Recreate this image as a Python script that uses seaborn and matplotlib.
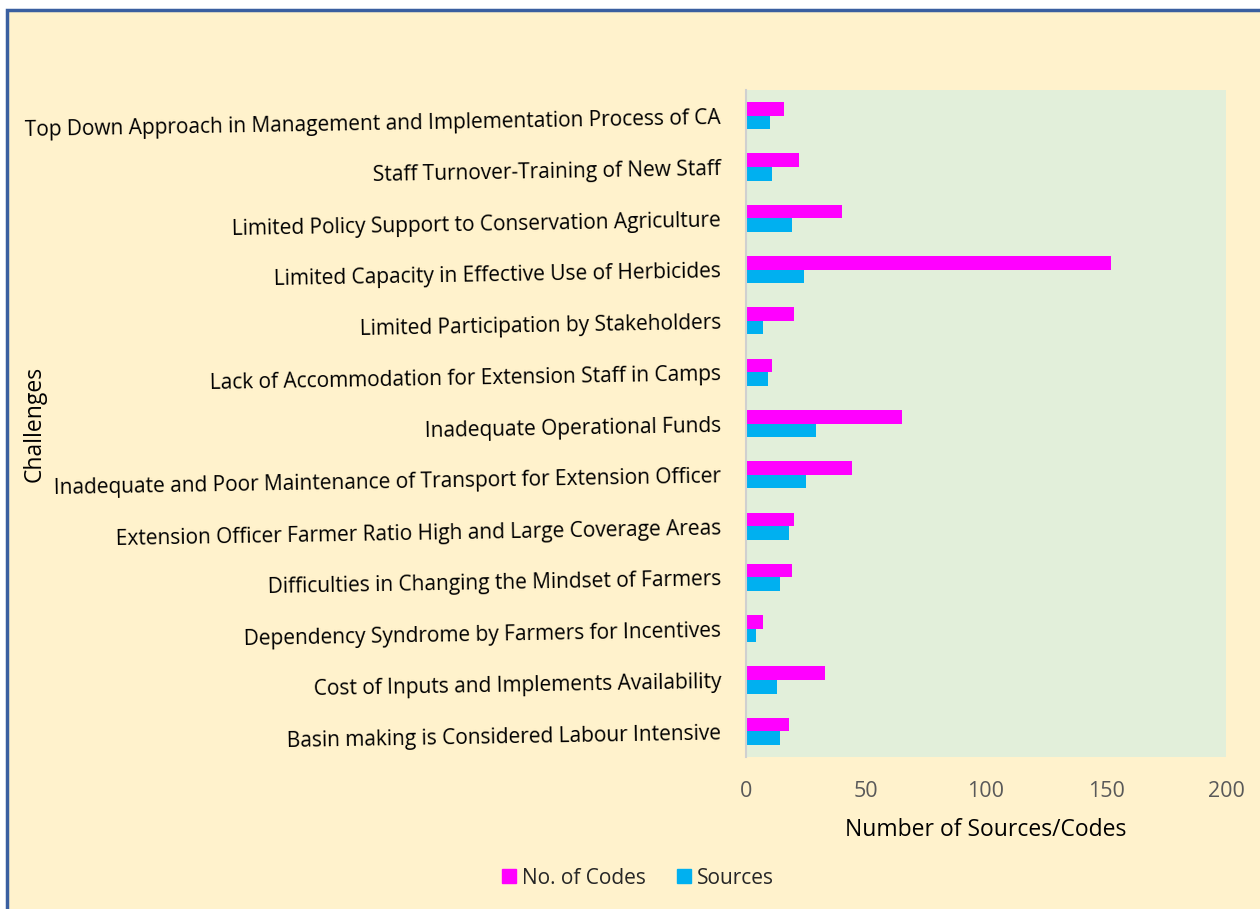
import matplotlib
matplotlib.use('Agg')
import matplotlib.pyplot as plt
import matplotlib.patches as mpatches
import seaborn as sns
import pandas as pd

# categories listed top to bottom as shown in the chart
challenges = [
    'Top Down Approach in Management and Implementation Process of CA',
    'Staff Turnover-Training of New Staff',
    'Limited Policy Support to Conservation Agriculture',
    'Limited Capacity in Effective Use of Herbicides',
    'Limited Participation by Stakeholders',
    'Lack of Accommodation for Extension Staff in Camps',
    'Inadequate Operational Funds',
    'Inadequate and Poor Maintenance of Transport for Extension Officer',
    'Extension Officer Farmer Ratio High and Large Coverage Areas',
    'Difficulties in Changing the Mindset of Farmers',
    'Dependency Syndrome by Farmers for Incentives',
    'Cost of Inputs and Implements Availability',
    'Basin making is Considered Labour Intensive',
]
no_of_codes = [16, 22, 40, 152, 20, 11, 65, 44, 20, 19, 7, 33, 18]
sources = [10, 11, 19, 24, 7, 9, 29, 25, 18, 14, 4, 13, 14]
series_names = ['No. of Codes', 'Sources']
colors = {'No. of Codes': '#FF00FF', 'Sources': '#00B0F0'}

df = pd.DataFrame({
    'Challenge': challenges * 2,
    'Value': no_of_codes + sources,
    'Series': [series_names[0]] * len(challenges) + [series_names[1]] * len(challenges),
})

sns.set_theme(style='white')
plt.rcParams['font.family'] = ['Open Sans', 'DejaVu Sans']

fig = plt.figure(figsize=(12.6, 9.09), dpi=100)
fig.patch.set_facecolor('white')
# cream chart background with blue border (top and left visible)
bg = mpatches.Rectangle((7 / 1260, -0.05), 1.1, 1 - 10 / 909 + 0.05,
                        transform=fig.transFigure, facecolor='#FFF2CC',
                        edgecolor='#3A5FA0', linewidth=2.5, zorder=-10)
fig.patches.append(bg)

ax = fig.add_axes([746 / 1260, 1 - 757 / 909, 480 / 1260, 667 / 909])
ax.set_facecolor('#E2EFDA')

sns.barplot(data=df, x='Value', y='Challenge', hue='Series', hue_order=series_names,
            palette=colors, orient='h', width=0.53, ax=ax, legend=False,
            edgecolor='none', saturation=1)

ax.set_xlim(0, 200)
ax.set_xticks([0, 50, 100, 150, 200])
ax.tick_params(axis='x', length=0, pad=17, labelsize=15.5, labelcolor='#595959')
ax.tick_params(axis='y', length=0, pad=18, labelsize=15, labelcolor='black')
for lbl in ax.get_yticklabels():
    lbl.set_rotation(1)
    lbl.set_rotation_mode('anchor')
for s in ['top', 'right', 'bottom']:
    ax.spines[s].set_visible(False)
ax.spines['left'].set_color('#D0D0D0')
ax.spines['left'].set_linewidth(1.5)

ax.set_xlabel('Number of Sources/Codes', fontsize=16.5, color='black')
ax.xaxis.set_label_coords(0.5, -0.092)
ax.set_ylabel('Challenges', fontsize=16.5, color='black')
ax.yaxis.set_label_coords(-1.458, 0.5)

handles = [mpatches.Patch(color=colors[n], label=n) for n in series_names]
fig.legend(handles=handles, loc='center', bbox_to_anchor=(638 / 1260, 1 - 878 / 909),
           ncol=2, frameon=False, fontsize=15, handlelength=0.65, handleheight=0.65,
           handletextpad=0.3, columnspacing=1.5)

fig.savefig('out.png', dpi=100, facecolor=fig.get_facecolor())
